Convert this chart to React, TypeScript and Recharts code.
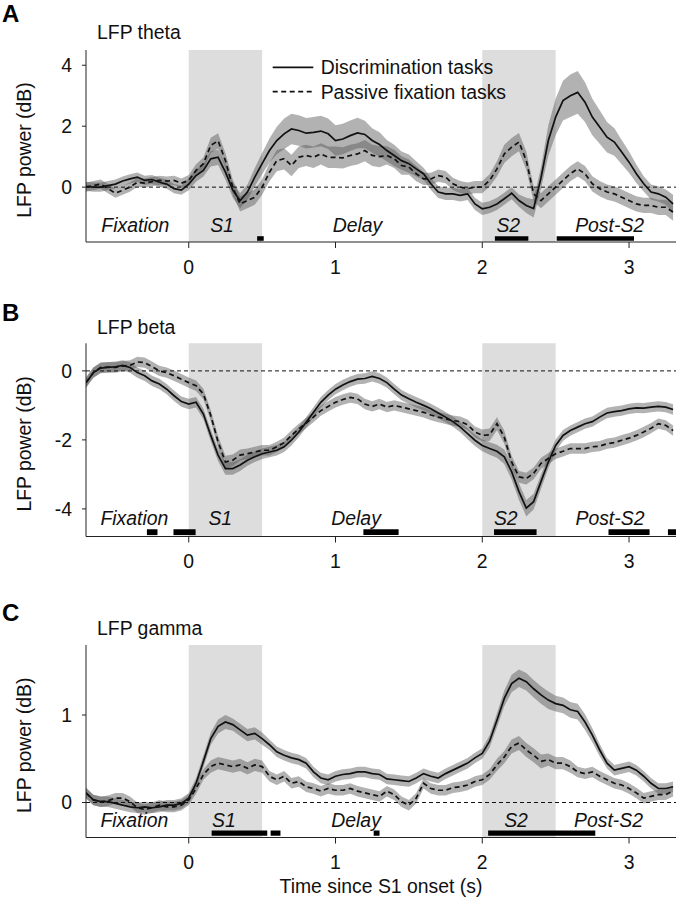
import React from 'react';
import {
  ComposedChart,
  Line,
  Area,
  XAxis,
  YAxis,
  ReferenceArea,
  ReferenceLine,
  ReferenceDot,
} from 'recharts';

// ---------- data ----------
const TIME = [
  -0.7, -0.65, -0.6, -0.55, -0.5, -0.45, -0.4, -0.35, -0.3, -0.25, -0.2, -0.15, -0.1, -0.05, 0,
  0.05, 0.1, 0.15, 0.2, 0.25, 0.3, 0.35, 0.4, 0.45, 0.5, 0.55, 0.6, 0.65, 0.7, 0.75, 0.8, 0.85, 0.9, 0.95, 1.0,
  1.05, 1.1, 1.15, 1.2, 1.25, 1.3, 1.35, 1.4, 1.45, 1.5, 1.55, 1.6, 1.65, 1.7, 1.75, 1.8, 1.85, 1.9, 1.95, 2.0,
  2.05, 2.1, 2.15, 2.2, 2.25, 2.3, 2.35, 2.4, 2.45, 2.5, 2.55, 2.6, 2.65, 2.7, 2.75, 2.8, 2.85, 2.9, 2.95, 3.0,
  3.05, 3.1, 3.15, 3.2, 3.25, 3.3,
];

const THETA_DISC = [
  0.03, 0.0, 0.0, 0.05, 0.1, 0.2, 0.27, 0.33, 0.22, 0.25, 0.16, 0.1, -0.05, -0.1, 0.1,
  0.38, 0.55, 0.93, 0.98, 0.49, -0.1, -0.44, -0.16, 0.33, 0.77, 1.2, 1.53, 1.75, 1.91, 1.86, 1.77, 1.8, 1.84, 1.75, 1.53,
  1.58, 1.69, 1.78, 1.73, 1.53, 1.4, 1.2, 1.04, 0.87, 0.77, 0.6, 0.44, 0.11, -0.16, -0.22, -0.22, -0.27, -0.22, -0.55, -0.71,
  -0.66, -0.55, -0.38, -0.2, -0.44, -0.6, -0.7, 0.3, 1.53, 2.3, 2.84, 3.0, 3.11, 2.79, 2.3, 1.97, 1.64, 1.48, 1.15, 0.82,
  0.44, 0.11, -0.16, -0.22, -0.33, -0.55,
];
const THETA_DISC_SEM = [
  0.15, 0.15, 0.15, 0.15, 0.15, 0.15, 0.15, 0.15, 0.15, 0.15, 0.15, 0.15, 0.15, 0.15, 0.2,
  0.2, 0.2, 0.25, 0.25, 0.25, 0.25, 0.25, 0.25, 0.3, 0.35, 0.4, 0.45, 0.5, 0.5, 0.5, 0.5, 0.5, 0.5, 0.5, 0.5,
  0.5, 0.5, 0.5, 0.45, 0.4, 0.4, 0.35, 0.35, 0.3, 0.3, 0.25, 0.2, 0.2, 0.2, 0.2, 0.2, 0.2, 0.2, 0.2, 0.2,
  0.2, 0.2, 0.2, 0.2, 0.2, 0.25, 0.3, 0.35, 0.5, 0.6, 0.65, 0.7, 0.7, 0.65, 0.6, 0.55, 0.5, 0.45, 0.4, 0.35,
  0.3, 0.25, 0.25, 0.25, 0.25, 0.3,
];
const THETA_PASS = [
  0.0, 0.05, 0.1, -0.05, -0.2, -0.1, 0.0, 0.16, 0.13, 0.18, 0.22, 0.2, 0.22, 0.13, 0.22,
  0.55, 0.77, 1.37, 1.52, 0.87, 0.0, -0.55, -0.44, -0.33, 0.0, 0.49, 0.87, 0.93, 0.71, 0.98, 1.04, 0.98, 1.09, 0.98, 0.98,
  0.96, 1.04, 1.09, 1.2, 1.04, 1.0, 1.04, 0.93, 0.71, 0.66, 0.44, 0.27, 0.27, 0.38, 0.33, 0.11, 0.0, -0.05, 0.0, 0.0,
  0.22, 0.6, 1.09, 1.31, 1.48, 0.87, -0.22, -0.44, -0.22, 0.0, 0.22, 0.44, 0.6, 0.44, 0.11, -0.05, -0.16, -0.22, -0.33, -0.44,
  -0.55, -0.6, -0.6, -0.66, -0.66, -0.82,
];
const THETA_PASS_SEM = [
  0.15, 0.15, 0.15, 0.15, 0.15, 0.15, 0.15, 0.15, 0.15, 0.15, 0.15, 0.15, 0.15, 0.15, 0.18,
  0.2, 0.2, 0.25, 0.25, 0.25, 0.25, 0.25, 0.25, 0.25, 0.25, 0.3, 0.35, 0.35, 0.35, 0.35, 0.35, 0.35, 0.35, 0.35, 0.35,
  0.35, 0.35, 0.35, 0.35, 0.35, 0.35, 0.3, 0.3, 0.3, 0.25, 0.25, 0.2, 0.2, 0.2, 0.2, 0.2, 0.2, 0.2, 0.2, 0.2,
  0.2, 0.25, 0.3, 0.3, 0.3, 0.3, 0.25, 0.25, 0.25, 0.25, 0.25, 0.25, 0.25, 0.25, 0.25, 0.25, 0.25, 0.25, 0.25, 0.25,
  0.25, 0.25, 0.25, 0.25, 0.25, 0.28,
];

const BETA_DISC = [
  -0.34, -0.05, 0.08, 0.1, 0.12, 0.16, 0.1, -0.05, -0.14, -0.29, -0.38, -0.53, -0.72, -0.89, -0.96,
  -0.91, -1.25, -1.87, -2.44, -2.83, -2.83, -2.73, -2.59, -2.49, -2.4, -2.35, -2.3, -2.2, -2.01, -1.77, -1.49, -1.2, -0.91, -0.7, -0.53,
  -0.41, -0.31, -0.24, -0.22, -0.16, -0.22, -0.34, -0.53, -0.7, -0.81, -0.91, -1.0, -1.1, -1.22, -1.34, -1.47, -1.63, -1.82, -2.01, -2.16,
  -2.25, -2.33, -2.49, -2.92, -3.5, -3.98, -3.79, -3.21, -2.64, -2.16, -1.87, -1.73, -1.63, -1.53, -1.47, -1.34, -1.22, -1.18, -1.15, -1.1,
  -1.07, -1.08, -1.05, -1.03, -1.05, -1.12,
];
const BETA_DISC_SEM = [
  0.15, 0.15, 0.15, 0.15, 0.15, 0.15, 0.15, 0.15, 0.15, 0.15, 0.15, 0.15, 0.15, 0.15, 0.15,
  0.15, 0.15, 0.17, 0.18, 0.18, 0.18, 0.17, 0.16, 0.15, 0.15, 0.15, 0.15, 0.15, 0.15, 0.15, 0.15, 0.15, 0.15, 0.15, 0.15,
  0.15, 0.15, 0.15, 0.15, 0.15, 0.15, 0.15, 0.15, 0.15, 0.15, 0.15, 0.15, 0.15, 0.15, 0.15, 0.15, 0.15, 0.16, 0.17, 0.17,
  0.18, 0.19, 0.21, 0.23, 0.24, 0.24, 0.23, 0.21, 0.19, 0.17, 0.16, 0.15, 0.15, 0.15, 0.15, 0.15, 0.15, 0.15, 0.15, 0.15,
  0.15, 0.15, 0.15, 0.15, 0.15, 0.15,
];
const BETA_PASS = [
  -0.34, -0.05, 0.1, 0.11, 0.1, 0.14, 0.16, 0.26, 0.24, 0.12, 0.0, -0.05, -0.14, -0.24, -0.34,
  -0.43, -0.67, -1.29, -2.06, -2.64, -2.59, -2.44, -2.4, -2.35, -2.3, -2.3, -2.2, -2.08, -1.87, -1.68, -1.51, -1.34, -1.15, -1.03, -0.91,
  -0.83, -0.77, -0.81, -0.96, -1.03, -0.96, -1.05, -1.0, -1.05, -1.1, -1.15, -1.2, -1.28, -1.34, -1.39, -1.44, -1.47, -1.56, -1.77, -1.87,
  -1.85, -1.53, -1.92, -2.64, -3.07, -3.12, -2.97, -2.68, -2.54, -2.4, -2.33, -2.25, -2.25, -2.25, -2.2, -2.18, -2.11, -2.08, -2.01, -1.95,
  -1.87, -1.77, -1.66, -1.53, -1.58, -1.73,
];
const BETA_PASS_SEM = [
  0.15, 0.15, 0.15, 0.15, 0.15, 0.15, 0.15, 0.15, 0.15, 0.15, 0.15, 0.15, 0.15, 0.15, 0.15,
  0.15, 0.15, 0.16, 0.17, 0.18, 0.17, 0.16, 0.15, 0.15, 0.15, 0.15, 0.15, 0.15, 0.15, 0.15, 0.15, 0.15, 0.15, 0.15, 0.15,
  0.15, 0.15, 0.15, 0.15, 0.15, 0.15, 0.15, 0.15, 0.15, 0.15, 0.15, 0.15, 0.15, 0.15, 0.15, 0.15, 0.15, 0.15, 0.16, 0.17,
  0.18, 0.19, 0.19, 0.18, 0.17, 0.17, 0.17, 0.16, 0.16, 0.15, 0.15, 0.15, 0.15, 0.15, 0.15, 0.15, 0.15, 0.15, 0.15, 0.15,
  0.15, 0.15, 0.15, 0.15, 0.15, 0.15,
];

const GAMMA_DISC = [
  0.11, 0.03, 0.01, 0.01, -0.01, -0.03, -0.05, -0.06, -0.05, -0.06, -0.05, -0.03, -0.03, -0.01, 0.05,
  0.22, 0.47, 0.73, 0.87, 0.92, 0.89, 0.83, 0.77, 0.79, 0.73, 0.66, 0.58, 0.54, 0.51, 0.49, 0.45, 0.35, 0.28, 0.26, 0.3,
  0.32, 0.33, 0.35, 0.35, 0.33, 0.32, 0.27, 0.26, 0.25, 0.24, 0.28, 0.33, 0.3, 0.28, 0.33, 0.37, 0.41, 0.45, 0.51, 0.56,
  0.7, 0.94, 1.19, 1.36, 1.42, 1.38, 1.3, 1.23, 1.17, 1.13, 1.11, 1.06, 1.04, 0.92, 0.77, 0.6, 0.45, 0.37, 0.39, 0.41,
  0.37, 0.3, 0.22, 0.16, 0.16, 0.18,
];
const GAMMA_DISC_SEM = [
  0.06, 0.06, 0.06, 0.06, 0.06, 0.06, 0.06, 0.06, 0.06, 0.06, 0.06, 0.06, 0.06, 0.06, 0.06,
  0.06, 0.07, 0.07, 0.08, 0.08, 0.07, 0.07, 0.07, 0.07, 0.07, 0.06, 0.06, 0.06, 0.06, 0.06, 0.06, 0.06, 0.06, 0.06, 0.06,
  0.06, 0.06, 0.06, 0.06, 0.06, 0.06, 0.06, 0.06, 0.06, 0.06, 0.06, 0.06, 0.06, 0.06, 0.06, 0.06, 0.06, 0.06, 0.06, 0.06,
  0.07, 0.08, 0.09, 0.1, 0.1, 0.1, 0.1, 0.1, 0.1, 0.09, 0.09, 0.09, 0.09, 0.09, 0.08, 0.07, 0.06, 0.06, 0.06, 0.06,
  0.06, 0.06, 0.06, 0.06, 0.06, 0.06,
];
const GAMMA_PASS = [
  0.11, 0.03, 0.01, 0.02, 0.05, 0.05, 0.01, -0.06, -0.08, -0.06, -0.03, -0.05, -0.05, -0.03, 0.03,
  0.16, 0.32, 0.41, 0.45, 0.43, 0.41, 0.43, 0.39, 0.43, 0.41, 0.3, 0.26, 0.3, 0.22, 0.24, 0.18, 0.16, 0.13, 0.16, 0.14,
  0.14, 0.16, 0.13, 0.11, 0.09, 0.07, 0.13, 0.09, 0.01, -0.03, 0.05, 0.22, 0.16, 0.14, 0.14, 0.17, 0.18, 0.2, 0.24, 0.26,
  0.32, 0.43, 0.52, 0.64, 0.68, 0.6, 0.54, 0.47, 0.49, 0.45, 0.45, 0.41, 0.35, 0.33, 0.35, 0.3, 0.26, 0.22, 0.2, 0.16,
  0.11, 0.05, 0.07, 0.09, 0.09, 0.13,
];
const GAMMA_PASS_SEM = [
  0.06, 0.06, 0.06, 0.06, 0.06, 0.06, 0.06, 0.06, 0.06, 0.06, 0.06, 0.06, 0.06, 0.06, 0.06,
  0.06, 0.06, 0.07, 0.07, 0.07, 0.07, 0.07, 0.07, 0.07, 0.07, 0.06, 0.06, 0.06, 0.06, 0.06, 0.06, 0.06, 0.06, 0.06, 0.06,
  0.06, 0.06, 0.06, 0.06, 0.06, 0.06, 0.06, 0.06, 0.06, 0.06, 0.06, 0.06, 0.06, 0.06, 0.06, 0.06, 0.06, 0.06, 0.06, 0.06,
  0.06, 0.07, 0.07, 0.08, 0.08, 0.08, 0.08, 0.08, 0.07, 0.07, 0.07, 0.07, 0.06, 0.06, 0.06, 0.06, 0.06, 0.06, 0.06, 0.06,
  0.06, 0.06, 0.06, 0.06, 0.06, 0.06,
];

// task epochs (shaded stimulus periods)
const STIM_PERIODS = [
  [0, 0.5],
  [2, 2.5],
];
const EPOCH_NAMES = ['Fixation', 'S1', 'Delay', 'S2', 'Post-S2'];
const SERIES_NAMES = ['Discrimination tasks', 'Passive fixation tasks'];

// significance bars (start, end in s)
const SIG_THETA = [
  [0.466, 0.511],
  [2.086, 2.314],
  [2.507, 3.034],
];
const SIG_BETA = [
  [-0.285, -0.213],
  [-0.104, 0.047],
  [1.19, 1.43],
  [2.08, 2.37],
  [2.86, 3.14],
  [3.265, 3.32],
];
const SIG_GAMMA = [
  [0.156, 0.535],
  [0.558, 0.625],
  [1.26, 1.3],
  [2.04, 2.77],
];

const X_TICKS = [0, 1, 2, 3];
const X_DOMAIN = [-0.7, 3.32];

const FONT = '"Liberation Sans", Arial, Helvetica, sans-serif';
const FS = 19.4;

type PanelProps = {
  top: number;
  plotTop: number;
  plotBottom: number;
  disc: number[];
  discSem: number[];
  pass: number[];
  passSem: number[];
  yDomain: number[];
  yTicks: number[];
  sig: number[][];
  sigY: number[];
  labelY: number;
  labelX: number[];
  xTitle?: boolean;
};

const epochLabel = (text: string) => (props: any) => {
  const vb = props.viewBox || {};
  const cx = (vb.x || 0) + (vb.width || 0) / 2;
  const cy = (vb.y || 0) + (vb.height || 0) / 2;
  return (
    <text
      x={cx}
      y={cy}
      dy="0.36em"
      textAnchor="middle"
      fontSize={FS}
      fontStyle="italic"
      fill="#111"
      fontFamily={FONT}
    >
      {text}
    </text>
  );
};

function Panel(p: PanelProps) {
  const H = 300;
  const xAxisH = 30;
  const data = TIME.map((t, i) => ({
    t,
    disc: p.disc[i],
    pass: p.pass[i],
    discBand: [p.disc[i] - p.discSem[i], p.disc[i] + p.discSem[i]],
    passBand: [p.pass[i] - p.passSem[i], p.pass[i] + p.passSem[i]],
  }));
  const plotMid = (p.plotTop + p.plotBottom) / 2;
  return (
    <div style={{ position: 'absolute', left: 0, top: p.top, width: 676, height: H }}>
      <ComposedChart
        width={676}
        height={H}
        data={data}
        margin={{ top: p.plotTop, right: 0, bottom: H - p.plotBottom - xAxisH, left: 0 }}
      >
        {STIM_PERIODS.map((s, i) => (
          <ReferenceArea
            key={'stim' + i}
            x1={s[0]}
            x2={s[1]}
            fill="#dddddd"
            fillOpacity={1}
            stroke="none"
          />
        ))}
        <XAxis
          type="number"
          dataKey="t"
          domain={X_DOMAIN}
          ticks={X_TICKS}
          allowDataOverflow
          height={xAxisH}
          tickSize={6}
          tickMargin={12}
          stroke="#222"
          tick={{ fill: '#111', fontSize: FS }}
          label={
            p.xTitle
              ? (props: any) => {
                  const vb = props.viewBox || {};
                  return (
                    <text
                      x={(vb.x || 0) + (vb.width || 0) / 2}
                      y={p.plotBottom + 48.5}
                      dy="0.36em"
                      textAnchor="middle"
                      fontSize={FS}
                      fill="#111"
                      fontFamily={FONT}
                    >
                      Time since S1 onset (s)
                    </text>
                  );
                }
              : undefined
          }
        />
        <YAxis
          type="number"
          domain={p.yDomain}
          ticks={p.yTicks}
          allowDataOverflow
          width={86}
          tickSize={4}
          tickMargin={10}
          stroke="#222"
          tick={{ fill: '#111', fontSize: FS }}
          label={() => (
            <text
              x={24}
              y={plotMid + 4}
              transform={`rotate(-90 24 ${plotMid + 4})`}
              dy="0.36em"
              textAnchor="middle"
              fontSize={FS}
              fill="#111"
              fontFamily={FONT}
            >
              LFP power (dB)
            </text>
          )}
        />
        <Area
          dataKey="passBand"
          type="linear"
          stroke="none"
          fill="#555"
          fillOpacity={0.45}
          isAnimationActive={false}
          activeDot={false}
          legendType="none"
        />
        <Area
          dataKey="discBand"
          type="linear"
          stroke="none"
          fill="#555"
          fillOpacity={0.45}
          isAnimationActive={false}
          activeDot={false}
          legendType="none"
        />
        <ReferenceLine y={0} stroke="#111" strokeWidth={1} strokeDasharray="4 3" />
        <Line
          dataKey="pass"
          type="linear"
          stroke="#111"
          strokeWidth={1.7}
          strokeDasharray="5 3.5"
          dot={false}
          activeDot={false}
          isAnimationActive={false}
        />
        <Line
          dataKey="disc"
          type="linear"
          stroke="#111"
          strokeWidth={1.7}
          dot={false}
          activeDot={false}
          isAnimationActive={false}
        />
        {p.sig.map((s, i) => (
          <ReferenceArea
            key={'sig' + i}
            x1={s[0]}
            x2={s[1]}
            y1={p.sigY[0]}
            y2={p.sigY[1]}
            fill="#000"
            fillOpacity={1}
            stroke="none"
          />
        ))}
        {EPOCH_NAMES.map((name, i) => (
          <ReferenceDot
            key={'ep' + i}
            x={p.labelX[i]}
            y={p.labelY}
            r={0}
            fill="none"
            stroke="none"
            label={epochLabel(name)}
          />
        ))}
      </ComposedChart>
    </div>
  );
}

const HEADERS = [
  { letter: 'A', title: 'LFP theta', letterY: 22, titleY: 39 },
  { letter: 'B', title: 'LFP beta', letterY: 321, titleY: 334 },
  { letter: 'C', title: 'LFP gamma', letterY: 621, titleY: 635 },
];

export default function App() {
  return (
    <div
      style={{
        position: 'absolute',
        left: 0,
        top: 0,
        width: 676,
        height: 900,
        background: '#fff',
        fontFamily: FONT,
        overflow: 'hidden',
      }}
    >
      <Panel
        top={0}
        plotTop={50}
        plotBottom={242}
        disc={THETA_DISC}
        discSem={THETA_DISC_SEM}
        pass={THETA_PASS}
        passSem={THETA_PASS_SEM}
        yDomain={[-1.8, 4.5]}
        yTicks={[0, 2, 4]}
        sig={SIG_THETA}
        sigY={[-1.76, -1.61]}
        labelY={-1.24}
        labelX={[-0.364, 0.227, 1.15, 2.177, 2.868]}
      />
      <Panel
        top={300}
        plotTop={43.3}
        plotBottom={236.5}
        disc={BETA_DISC}
        discSem={BETA_DISC_SEM}
        pass={BETA_PASS}
        passSem={BETA_PASS_SEM}
        yDomain={[-4.8, 0.8]}
        yTicks={[-4, -2, 0]}
        sig={SIG_BETA}
        sigY={[-4.76, -4.59]}
        labelY={-4.26}
        labelX={[-0.37, 0.215, 1.14, 2.16, 2.87]}
      />
      <Panel
        top={600}
        plotTop={45}
        plotBottom={237.5}
        disc={GAMMA_DISC}
        discSem={GAMMA_DISC_SEM}
        pass={GAMMA_PASS}
        passSem={GAMMA_PASS_SEM}
        yDomain={[-0.4, 1.8]}
        yTicks={[0, 1]}
        sig={SIG_GAMMA}
        sigY={[-0.38, -0.32]}
        labelY={-0.2}
        labelX={[-0.37, 0.24, 1.14, 2.23, 2.86]}
        xTitle
      />
      <svg
        width={676}
        height={900}
        style={{ position: 'absolute', left: 0, top: 0, pointerEvents: 'none' }}
      >
        {HEADERS.map((h) => (
          <g key={h.letter}>
            <text x={2} y={h.letterY} fontSize={24} fontWeight="bold" fill="#000" fontFamily={FONT}>
              {h.letter}
            </text>
            <text x={97} y={h.titleY} fontSize={FS} fill="#111" fontFamily={FONT}>
              {h.title}
            </text>
          </g>
        ))}
        {/* legend for panel A */}
        <line x1={272.7} x2={313.3} y1={67.3} y2={67.3} stroke="#111" strokeWidth={1.7} />
        <line
          x1={272.7}
          x2={313.3}
          y1={91.7}
          y2={91.7}
          stroke="#111"
          strokeWidth={1.7}
          strokeDasharray="5 3.5"
        />
        <text x={320.7} y={67.3} dy="0.36em" fontSize={FS} fill="#111" fontFamily={FONT}>
          {SERIES_NAMES[0]}
        </text>
        <text x={320.7} y={91.7} dy="0.36em" fontSize={FS} fill="#111" fontFamily={FONT}>
          {SERIES_NAMES[1]}
        </text>
      </svg>
    </div>
  );
}
